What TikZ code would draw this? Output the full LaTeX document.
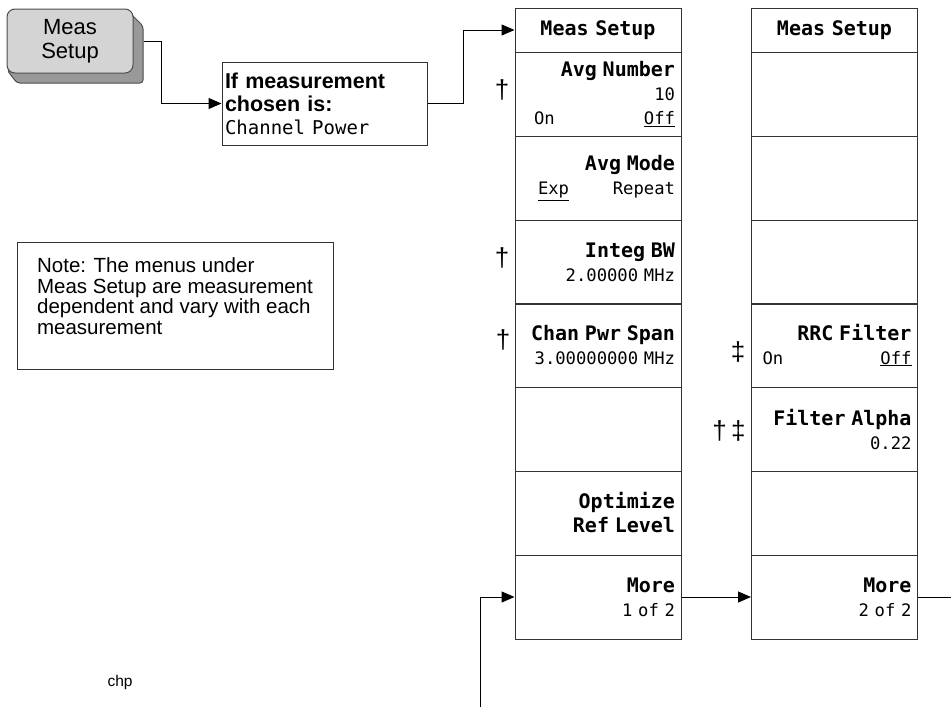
\documentclass[tikz,border=0pt]{standalone}
\usepackage{fontspec}
\setmainfont{Liberation Sans}
\newfontfamily\keyfont{DejaVu Sans Mono}
\usepackage{tikz}
\usetikzlibrary{arrows.meta}

\newcommand{\keytitle}[1]{{\fontsize{20}{24}\selectfont\bfseries #1}}

\begin{document}
\begin{tikzpicture}[
    x=1pt, y=-1pt,
    font=\fontsize{20.5}{20.5}\selectfont,
    key/.style={
        draw=black!80,
        line width=1pt,
        minimum width=166pt,
        minimum height=84pt,
        text width=154pt,
        inner sep=6pt,
        align=right,
        font=\keyfont\fontsize{17.2}{24}\selectfont
    },
    hdr/.style={
        key,
        minimum height=44pt,
        align=center,
        font=\keyfont\fontsize{20}{24}\selectfont\bfseries
    },
    cond/.style={
        draw=black!80,
        line width=1pt,
        minimum width=205pt,
        minimum height=83pt,
        text width=199pt,
        inner sep=3pt,
        align=left,
        font=\fontsize{21.5}{23}\selectfont
    },
    notebox/.style={
        draw=black!80,
        line width=1pt,
        minimum width=316pt,
        minimum height=127pt,
        text depth=19pt,
        align=left
    },
    fnmark/.style={
        font=\fontsize{26}{26}\selectfont,
        inner sep=0pt
    },
    conn/.style={
        draw=black,
        line width=1pt
    },
    arr/.style={
        conn,
        -{Triangle[length=13pt,width=11pt]}
    }
]
\useasboundingbox (0,0) rectangle (951,707);

% --- Hard key
\filldraw[draw=black!70, fill=black!40, line width=1pt, rounded corners=3pt]
    (128,11) -- (143,26) -- (143,83) -- (17,83) -- (7,70) -- cycle;
\node[draw=black!70, fill=black!17, line width=1pt, rounded corners=8pt,
      minimum width=126pt, minimum height=64pt, align=center,
      font=\fontsize{22}{24}\selectfont] (btn) at (70,41) {Meas\\Setup};

% --- Condition
\node[cond] (cond) at (324.5,103.5) {
\textbf{If measurement}\\
\textbf{chosen is:}\\
{\keyfont\fontsize{19}{23}\selectfont Channel Power}
};

% --- Note
\node[notebox] (note) at (175,305.5) {
Note: The menus under\\
Meas Setup are measurement\\
dependent and vary with each\\
measurement
};

\node[font=\fontsize{15.5}{16}\selectfont] (chp) at (120,682) {chp};

% --- Menu 1 of 2
\node[hdr] (hdrA) at (598,30) {Meas Setup};
\node[key] (avgnum) at (598,94) {
\keytitle{Avg Number}\\
10\\
\hspace*{13pt}On\hfill\underline{Off}
};
\node[key] (avgmode) at (598,178) {
\keytitle{Avg Mode}\\
\hspace*{17pt}\underline{Exp}\hfill Repeat
};
\node[key] (integbw) at (598,262) {
\keytitle{Integ BW}\\
2.00000 MHz
};
\node[key] (span) at (598,345) {
\keytitle{Chan Pwr Span}\\
3.00000000 MHz
};
\node[key] (blankA) at (598,429) {};
\node[key] (optref) at (598,513) {
\keytitle{Optimize}\\
\keytitle{Ref Level}
};
\node[key] (moreA) at (598,597) {
\keytitle{More}\\
1 of 2
};

% --- Menu 2 of 2
\node[hdr] (hdrB) at (834.5,30) {Meas Setup};
\node[key] (blankB1) at (834.5,94) {};
\node[key] (blankB2) at (834.5,178) {};
\node[key] (blankB3) at (834.5,262) {};
\node[key] (rrc) at (834.5,345) {
\keytitle{RRC Filter}\\
\hspace*{5pt}On\hfill\underline{Off}
};
\node[key] (alpha) at (834.5,429) {
\keytitle{Filter Alpha}\\
0.22
};
\node[key] (blankB4) at (834.5,513) {};
\node[key] (moreB) at (834.5,597) {
\keytitle{More}\\
2 of 2
};

% --- Footnote marks
\node[fnmark] (dagA) at (502,90) {†};
\node[fnmark] (dagB) at (502,258) {†};
\node[fnmark] (dagC) at (503,340) {†};
\node[fnmark] (ddagA) at (738,352) {‡};
\node[fnmark] (ddagB) at (729,431) {†\,‡};

% --- Connections
\coordinate (entry) at (480,707);
\coordinate (exit) at (951,597);
\draw[arr] ([xshift=10pt]btn.east) -- ++(18,0) |- (cond.west);
\draw[arr] (cond.east) -- ++(36,0) |- (hdrA.west);
\draw[arr] (entry) |- (moreA.west);
\draw[arr] (moreA) -- (moreB);
\draw[conn] (moreB.east) -- (exit);

\end{tikzpicture}
\end{document}
